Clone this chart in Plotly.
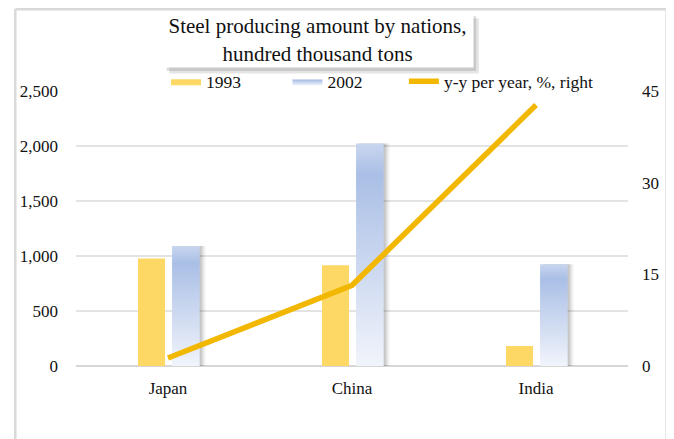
import plotly.graph_objects as go

# dados
paises = ["Japan", "China", "India"]
prod_1993 = [978, 917, 182]
prod_2002 = [1090, 2022, 926]
yy_ano = [1.3, 13.2, 42.7]

COR_1993 = "#FDD865"
COR_LINHA = "#F2B700"
FONTE = "Liberation Serif"
GRAD_2002 = [[0, "#F1F4FB"], [0.86, "#AABFE6"], [1, "#C9D6EF"]]

# deslocamentos das barras em torno do centro de cada categoria
OFF_1993, OFF_2002, LARG = -0.163, 0.022, 0.15
pos = list(range(len(paises)))

fig = go.Figure()

# sombra das barras de 2002
for dx, alfa in [(0.012, 0.10), (0.022, 0.08), (0.032, 0.05)]:
    fig.add_trace(go.Bar(
        x=pos, y=prod_2002, offset=OFF_2002 + dx, width=LARG,
        marker=dict(color=f"rgba(0,0,0,{alfa})", line_width=0),
        showlegend=False, hoverinfo="skip",
    ))

fig.add_trace(go.Bar(
    x=pos, y=prod_1993, offset=OFF_1993, width=LARG - 0.003,
    name="1993", marker=dict(color=COR_1993, line_width=0), showlegend=False,
))
# entrada de legenda (sem dados) para ter o retângulo largo
fig.add_trace(go.Scatter(
    x=[None], y=[None], mode="lines", fill="toself", line=dict(width=0),
    fillcolor=COR_1993, name="1993", legend="legend",
))

# barras de 2002 com degradê vertical
for i, v in enumerate(prod_2002):
    x0, x1 = pos[i] + OFF_2002, pos[i] + OFF_2002 + LARG
    fig.add_trace(go.Scatter(
        x=[x0, x1, x1, x0, x0], y=[0, 0, v, v, 0],
        mode="lines", fill="toself", line=dict(width=0),
        fillgradient=dict(type="vertical", colorscale=GRAD_2002),
        name="2002", showlegend=(i == 0), legend="legend2",
    ))

fig.add_trace(go.Scatter(
    x=pos, y=yy_ano, yaxis="y2", mode="lines",
    name="y-y per year, %, right",
    line=dict(color=COR_LINHA, width=5.5), legend="legend3",
))

# moldura externa
for x0, y0, x1, y1 in [(-0.11, 1.297, 1.07, 1.297), (-0.11, 1.297, -0.11, -0.3),
                       (1.07, 1.297, 1.07, -0.3)]:
    fig.add_shape(type="line", xref="paper", yref="paper", x0=x0, y0=y0, x1=x1, y1=y1,
                  line=dict(color="#D9D9D9", width=2.5))

# sombra da caixa do título
for d, alfa in [(0.012, 0.10), (0.007, 0.12)]:
    fig.add_shape(type="rect", xref="paper", yref="paper",
                  x0=0.157 + d, x1=0.718 + d, y0=1.085 - d * 1.8, y1=1.285 - d * 1.8,
                  fillcolor=f"rgba(0,0,0,{alfa})", line_width=0)

fig.add_annotation(
    xref="paper", yref="paper", x=0.4375, y=1.185,
    text="Steel producing amount by nations,<br>hundred thousand tons",
    showarrow=False, font=dict(family=FONTE, size=21, color="#111"),
    bgcolor="white", width=309, height=52, align="center",
    xanchor="center", yanchor="middle",
)

leg = dict(orientation="h", y=1.035, xanchor="left", yanchor="middle",
           font=dict(family=FONTE, size=17.5, color="#111"), bgcolor="rgba(0,0,0,0)")

fig.update_layout(
    width=674, height=439,
    margin=dict(l=68, r=54, t=83, b=81),
    paper_bgcolor="white", plot_bgcolor="white",
    font=dict(family=FONTE, size=17, color="#111"),
    showlegend=True,
    legend=dict(leg, x=0.163),
    legend2=dict(leg, x=0.383),
    legend3=dict(leg, x=0.594),
    xaxis=dict(
        range=[-0.5, 2.5], tickvals=pos, ticktext=paises,
        showgrid=False, zeroline=False, showline=False, ticks="",
        ticklabelstandoff=10,
    ),
    yaxis=dict(
        range=[0, 2500], tickvals=[0, 500, 1000, 1500, 2000, 2500],
        tickformat=",", gridcolor="#E3E3E3", gridwidth=1.5,
        zeroline=True, zerolinecolor="#D6D6D6", zerolinewidth=2,
        ticklabelstandoff=17,
    ),
    yaxis2=dict(
        range=[0, 45], tickvals=[0, 15, 30, 45], overlaying="y", side="right",
        showgrid=False, zeroline=False, ticklabelstandoff=13,
    ),
    barmode="overlay",
)

fig.write_html("out.html")
